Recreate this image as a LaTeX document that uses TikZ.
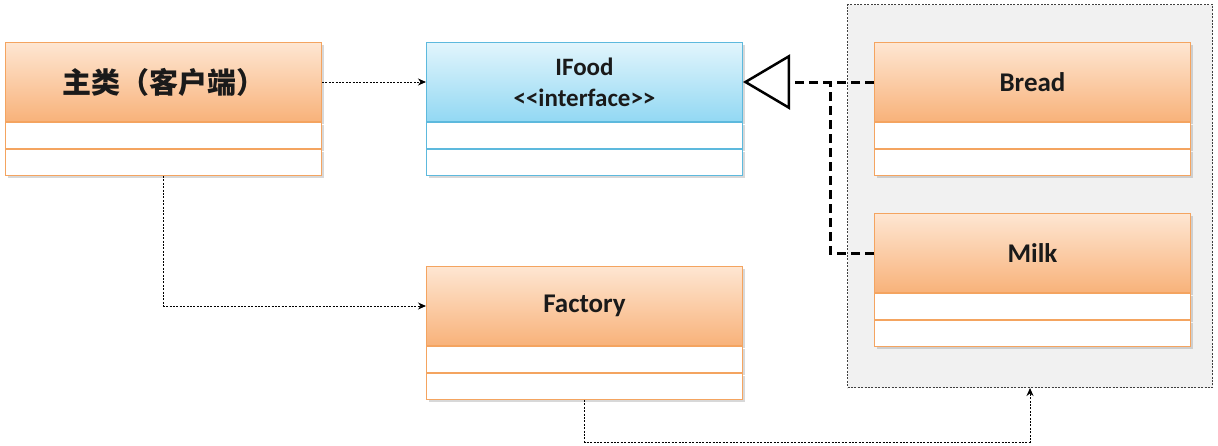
\documentclass[tikz,border=0pt]{standalone}
\usepackage{fontspec}
\setmainfont{Carlito}
\newfontfamily\cjk{Noto Sans CJK SC}
\usetikzlibrary{arrows.meta,shadows}
\definecolor{orbord}{HTML}{F4A460}
\definecolor{ortop}{HTML}{FEE6D2}
\definecolor{orbot}{HTML}{F8B27A}
\definecolor{blbord}{HTML}{5DB9DD}
\definecolor{bltop}{HTML}{E2F5FC}
\definecolor{blbot}{HTML}{92D8F3}
\definecolor{grpfill}{HTML}{F1F1F1}
\definecolor{txt}{HTML}{1A1A1A}
\tikzset{
  shd/.style={drop shadow={shadow xshift=2pt, shadow yshift=-2pt, opacity=0.25, fill=black!60}},
  hdr/.style={draw=orbord, line width=1pt, top color=ortop, bottom color=orbot,
    minimum width=316pt, minimum height=79pt, anchor=north west, inner sep=0pt,
    font=\fontsize{27}{30}\selectfont\bfseries, text=txt, shd},
  bhdr/.style={hdr, draw=blbord, top color=bltop, bottom color=blbot},
  cmp/.style={draw=orbord, line width=1pt, fill=white, minimum width=316pt,
    minimum height=26pt, anchor=north west, inner sep=0pt, shd},
  bcmp/.style={cmp, draw=blbord},
  dotarrow/.style={line width=1pt, dash pattern=on 2pt off 1.4pt, -{Stealth[length=8pt,width=7pt,inset=2.5pt]}},
  thickdash/.style={line width=3pt, dash pattern=on 9pt off 5pt},
  grp/.style={draw=black!75, line width=1pt, dash pattern=on 2pt off 1.4pt, fill=grpfill,
    anchor=north west, inner sep=0pt}
}
\begin{document}
\begin{tikzpicture}[x=1pt,y=-1pt]
\useasboundingbox[fill=white] (0,0) rectangle (1218,445);
% group box
\node[grp, minimum width=365pt, minimum height=383pt] (group) at (847,4) {};
% main class
\node[hdr] (main) at (5,42) {\cjk\fontsize{29}{32}\selectfont\bfseries 主类（客户端）};
\node[cmp] (main1) at (main.south west) {};
\node[cmp] (main2) at (main1.south west) {};
% IFood
\node[bhdr, align=center, font=\fontsize{25}{28}\selectfont\bfseries] (ifood) at (426,42) {IFood\\[3pt]<{}<interface>{}>};
\node[bcmp] (ifood1) at (ifood.south west) {};
\node[bcmp] (ifood2) at (ifood1.south west) {};
% Factory
\node[hdr] (fac) at (426,266) {Factory};
\node[cmp] (fac1) at (fac.south west) {};
\node[cmp] (fac2) at (fac1.south west) {};
% Bread
\node[hdr] (bread) at (874,42) {Bread};
\node[cmp] (bread1) at (bread.south west) {};
\node[cmp] (bread2) at (bread1.south west) {};
% Milk
\node[hdr] (milk) at (874,213) {Milk};
\node[cmp] (milk1) at (milk.south west) {};
\node[cmp] (milk2) at (milk1.south west) {};
% connectors
\draw[dotarrow] (main.east) -- (ifood.west);
\draw[dotarrow] (main2.south) |- (fac.west);
\draw[dotarrow] (fac2.south) -- ++(0,42) -| (group.south);
\coordinate (join) at (830,82);
\draw[thickdash] (milk.west) -| (join);
\draw[thickdash, -{Triangle[open, fill=white, length=47pt, width=55pt, line width=2.5pt]}] (bread.west) -- (ifood.east);
\end{tikzpicture}
\end{document}
